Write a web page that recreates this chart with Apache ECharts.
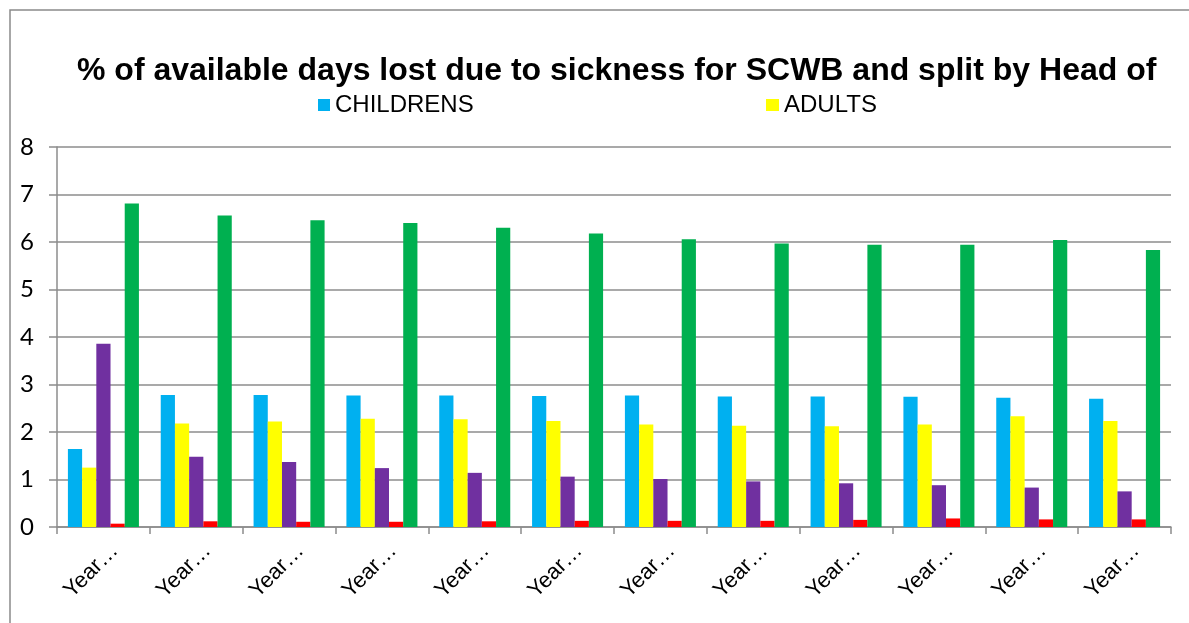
<!DOCTYPE html>
<html>
<head>
<meta charset="utf-8">
<script src="https://cdn.jsdelivr.net/npm/echarts@6/dist/echarts.min.js"></script>
<style>
  html, body { margin: 0; padding: 0; background: #fff; }
  #chart { width: 1189px; height: 623px; }
</style>
</head>
<body>
<div id="chart"></div>
<script>
// Sickness absence (% of available days lost) per year period
const categories = ['Year…', 'Year…', 'Year…', 'Year…', 'Year…', 'Year…',
                    'Year…', 'Year…', 'Year…', 'Year…', 'Year…', 'Year…'];

const childrens = [1.64, 2.78, 2.78, 2.77, 2.77, 2.76, 2.77, 2.75, 2.75, 2.74, 2.72, 2.70];
const adults    = [1.25, 2.18, 2.22, 2.28, 2.27, 2.23, 2.16, 2.13, 2.12, 2.16, 2.33, 2.23];
const series3   = [3.86, 1.48, 1.37, 1.24, 1.14, 1.06, 1.01, 0.96, 0.92, 0.88, 0.83, 0.75];
const series4   = [0.07, 0.12, 0.11, 0.11, 0.12, 0.13, 0.13, 0.13, 0.15, 0.18, 0.16, 0.16];
const series5   = [6.81, 6.56, 6.46, 6.40, 6.30, 6.18, 6.06, 5.97, 5.94, 5.94, 6.04, 5.83];

const yTicks = { min: 0, max: 8, interval: 1 };

const titleText = '% of available days lost due to sickness for SCWB and split by Head of';

const axisGrey = '#8c8c8c';
const sansFont = 'Liberation Sans, Arial, sans-serif';

function bar(name, data, color) {
  return {
    name: name,
    type: 'bar',
    data: data,
    barGap: '0%',
    barCategoryGap: '23.5%',
    itemStyle: { color: color },
    emphasis: { disabled: true }
  };
}

const chart = echarts.init(document.getElementById('chart'));
chart.setOption({
  animation: false,
  backgroundColor: '#ffffff',
  title: {
    text: titleText,
    left: 72,
    top: 50,
    textStyle: {
      fontFamily: sansFont,
      fontWeight: 'bold',
      fontSize: 32,
      color: '#000'
    }
  },
  legend: [
    {
      data: ['CHILDRENS'],
      left: 313,
      top: 88,
      itemWidth: 12,
      itemHeight: 12,
      itemGap: 8,
      icon: 'rect',
      textStyle: { fontFamily: sansFont, fontSize: 24, color: '#000', padding: [0, 0, 0, 0] }
    },
    {
      data: ['ADULTS'],
      left: 761,
      top: 88,
      itemWidth: 13,
      itemHeight: 12,
      icon: 'rect',
      textStyle: { fontFamily: sansFont, fontSize: 24, color: '#000', padding: [0, 0, 0, 0] }
    }
  ],
  graphic: [
    {
      type: 'rect',
      shape: { x: 10, y: 10, width: 1250, height: 700 },
      style: { fill: 'none', stroke: '#8a8a8a', lineWidth: 1.5 },
      silent: true
    }
  ],
  grid: { left: 57, right: 18, top: 147, bottom: 96 },
  xAxis: {
    type: 'category',
    data: categories,
    boundaryGap: true,
    axisLine: { lineStyle: { color: axisGrey, width: 1.5 } },
    axisTick: { show: true, length: 7, lineStyle: { color: axisGrey, width: 1.5 } },
    axisLabel: {
      interval: 0,
      rotate: 45,
      margin: 9,
      verticalAlign: 'top',
      padding: [5, 0, 0, 0],
      fontFamily: sansFont,
      fontSize: 22,
      color: '#000'
    }
  },
  yAxis: {
    type: 'value',
    min: yTicks.min,
    max: yTicks.max,
    interval: yTicks.interval,
    axisLine: { show: true, lineStyle: { color: axisGrey, width: 1.5 } },
    axisTick: { show: true, length: 8, lineStyle: { color: axisGrey, width: 1.5 } },
    splitLine: { lineStyle: { color: axisGrey, width: 1.5 } },
    axisLabel: {
      margin: 23,
      fontFamily: 'Lato, sans-serif',
      fontSize: 24,
      color: '#000'
    }
  },
  series: [
    bar('CHILDRENS', childrens, '#00B0F0'),
    bar('ADULTS', adults, '#FFFF00'),
    bar('Series 3', series3, '#7030A0'),
    bar('Series 4', series4, '#FF0000'),
    bar('Series 5', series5, '#00B050')
  ]
});
</script>
</body>
</html>
